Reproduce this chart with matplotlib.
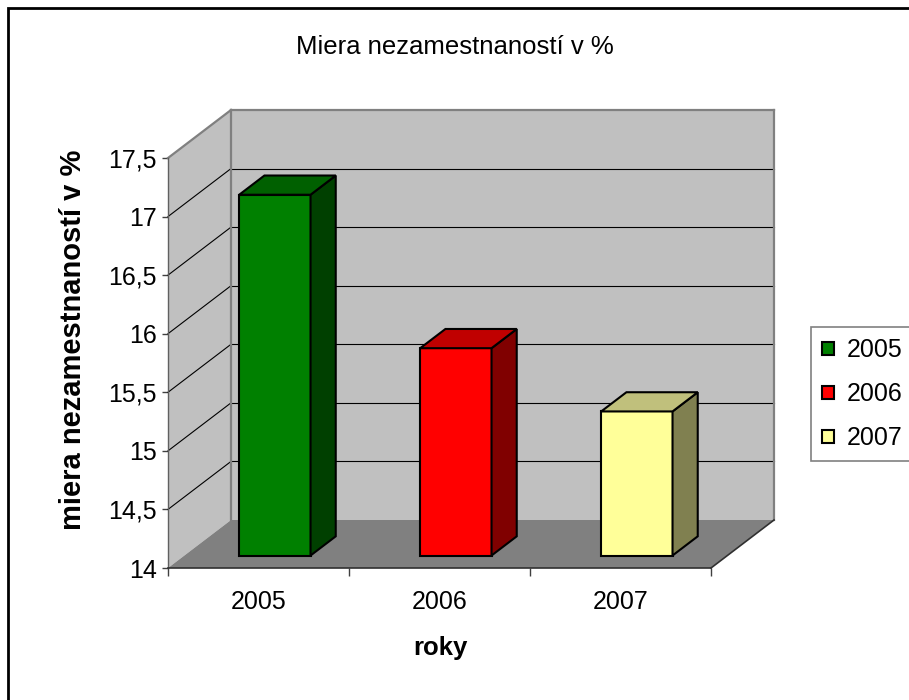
import numpy as np
import matplotlib
matplotlib.use('Agg')
import matplotlib.pyplot as plt
from matplotlib.patches import Polygon, Patch, Rectangle
from matplotlib.lines import Line2D
from matplotlib.ticker import FuncFormatter

# data
years = ['2005', '2006', '2007']
rates = [17.08, 15.77, 15.23]
front_colors = ['#008000', '#ff0000', '#ffff99']
top_colors = ['#006000', '#c00000', '#c0c07c']
side_colors = ['#004000', '#800000', '#808050']
yticks = [14, 14.5, 15, 15.5, 16, 16.5, 17, 17.5]

plt.rcParams['font.family'] = ['Liberation Sans', 'DejaVu Sans']

W, H = 909, 700
fig = plt.figure(figsize=(W / 100, H / 100), dpi=100)
ax = fig.add_axes([168 / W, 1 - 568 / H, 543 / W, 410 / H])
ax.set_xlim(0, 3)
ax.set_ylim(14, 17.5)
ax.patch.set_visible(False)
for s in ax.spines.values():
    s.set_visible(False)

# depth of the 3d box, pixels
DX, DY = 63, 48
to_fig = fig.transFigure.inverted()


def proj(x, v, d):
    p = ax.transData.transform((x, v))
    p = p + np.array([DX * d, DY * d])
    return to_fig.transform(p)


def face(pts, fc, ec='none', lw=0, z=1):
    poly = Polygon([proj(*p) for p in pts], closed=True, facecolor=fc,
                   edgecolor=ec, linewidth=lw, transform=fig.transFigure,
                   clip_on=False, zorder=z)
    fig.add_artist(poly)


def line(p1, p2, color, lw, z=2):
    a, b = proj(*p1), proj(*p2)
    fig.add_artist(Line2D([a[0], b[0]], [a[1], b[1]], color=color, lw=lw,
                          transform=fig.transFigure, zorder=z))


lo, hi = yticks[0], yticks[-1]
n = len(years)

# walls and floor
face([(0, lo, 1), (n, lo, 1), (n, hi, 1), (0, hi, 1)], '#c0c0c0')
face([(0, lo, 0), (0, lo, 1), (0, hi, 1), (0, hi, 0)], '#c0c0c0')
face([(0, lo, 0), (n, lo, 0), (n, lo, 1), (0, lo, 1)], '#808080')

for v in yticks[1:-1]:
    line((0, v, 1), (n, v, 1), '#000000', 0.8)
    line((0, v, 0), (0, v, 1), '#000000', 0.8)

gray = '#808080'
line((0, lo, 1), (0, hi, 1), gray, 1.6)
line((0, hi, 1), (n, hi, 1), gray, 1.6)
line((n, hi, 1), (n, lo, 1), gray, 1.6)
line((0, hi, 0), (0, hi, 1), gray, 1.6)
line((0, lo, 0), (0, hi, 0), '#606060', 1.0)
line((0, lo, 0), (n, lo, 0), '#303030', 1.2)
line((n, lo, 0), (n, lo, 1), '#303030', 1.2)

# bars
d0, d1 = 0.26, 0.66
hw = 0.197
for i, v in enumerate(rates):
    c = i + 0.5
    xl, xr = c - hw, c + hw
    face([(xl, lo, d0), (xr, lo, d0), (xr, v, d0), (xl, v, d0)],
         front_colors[i], 'black', 1.5, 3)
    face([(xr, lo, d0), (xr, lo, d1), (xr, v, d1), (xr, v, d0)],
         side_colors[i], 'black', 1.5, 3)
    face([(xl, v, d0), (xr, v, d0), (xr, v, d1), (xl, v, d1)],
         top_colors[i], 'black', 1.5, 3)

# axes ticks
ax.set_yticks(yticks)
ax.yaxis.set_major_formatter(FuncFormatter(lambda v, p: ('%g' % v).replace('.', ',')))
ax.tick_params(axis='y', length=4, width=1, color='#404040', pad=4, labelsize=18)
ax.set_xticks(range(n + 1))
ax.set_xticklabels([])
ax.set_xticks([i + 0.5 for i in range(n)], minor=True)
ax.set_xticklabels(years, minor=True)
ax.tick_params(axis='x', which='major', length=6, width=1, color='#404040')
ax.tick_params(axis='x', which='minor', length=0, pad=16, labelsize=18)

fig.text(455 / W, 1 - 47 / H, 'Miera nezamestnaností v %', ha='center',
         va='center', fontsize=18.5)
fig.text(73 / W, 1 - 340 / H, 'miera nezamestnaností v %', ha='center',
         va='center', rotation=90, fontsize=21, fontweight='bold')
fig.text(440 / W, 1 - 648 / H, 'roky', ha='center', va='center',
         fontsize=18.5, fontweight='bold')

handles = [Patch(facecolor=front_colors[i], edgecolor='black', linewidth=1.5,
                 label=years[i]) for i in range(n)]
leg = fig.legend(handles=handles, loc='upper left',
                 bbox_to_anchor=(811 / W, 1 - 327 / H), fontsize=18,
                 fancybox=False, edgecolor=gray, framealpha=1,
                 handlelength=0.45, handleheight=0.45, handletextpad=0.55,
                 labelspacing=0.8, borderpad=0.45, borderaxespad=0)
leg.get_frame().set_linewidth(1.2)

fig.add_artist(Rectangle((8 / W, -0.1), 1.1, 1 - 8 / H + 0.1, fill=False,
                         edgecolor='black', linewidth=2,
                         transform=fig.transFigure, clip_on=False))

fig.savefig('out.png', dpi=100)
